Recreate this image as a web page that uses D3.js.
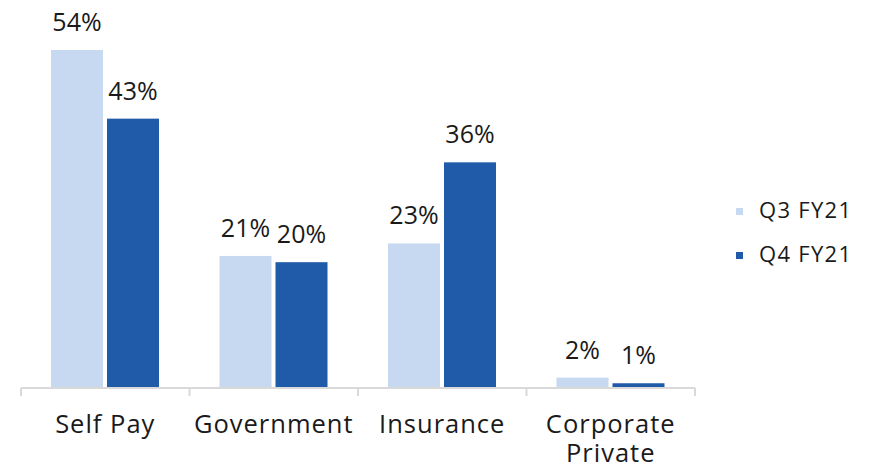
<!DOCTYPE html>
<html>
<head>
<meta charset="utf-8">
<script src="https://cdn.jsdelivr.net/npm/d3@7"></script>
<style>
  html, body { margin: 0; padding: 0; background: #ffffff; }
  svg { display: block; font-family: "Open Sans", "DejaVu Sans", sans-serif; }
</style>
</head>
<body>
<svg id="chart" width="871" height="466"></svg>
<script>
// ---- data ----
const categories = ["Self Pay", "Government", "Insurance", "Corporate Private"];
const categoryLines = [["Self Pay"], ["Government"], ["Insurance"], ["Corporate", "Private"]];
const seriesNames = ["Q3 FY21", "Q4 FY21"];
const q3Values = [54, 21, 23, 1.5];
const q4Values = [43, 20, 36, 0.6];
const seriesColors = ["#c6d9f1", "#1f5ba8"];

const seriesValues = [q3Values, q4Values];

const svg = d3.select("#chart");

const x = d3.scaleBand().domain(categories).range([21, 695]).paddingInner(0).paddingOuter(0);
const xInner = d3.scaleBand().domain(seriesNames).range([30, 138]).paddingInner(4 / 56).paddingOuter(0);
const y = d3.scaleLinear().domain([0, 54]).range([387, 50]);

// bars
const groups = svg.selectAll("g.cat")
  .data(categories)
  .join("g")
  .attr("class", "cat")
  .attr("transform", d => `translate(${x(d)},0)`);

groups.each(function (cat, ci) {
  const g = d3.select(this);
  seriesNames.forEach((s, si) => {
    const v = seriesValues[si][ci];
    g.append("rect")
      .attr("x", xInner(s))
      .attr("y", y(v))
      .attr("width", xInner.bandwidth())
      .attr("height", y(0) - y(v))
      .attr("fill", seriesColors[si]);
    g.append("text")
      .attr("x", xInner(s) + xInner.bandwidth() / 2)
      .attr("y", y(v) - 19)
      .attr("text-anchor", "middle")
      .attr("font-size", 25)
      .attr("fill", "#1a1a1a")
      .text(Math.round(v) + "%");
  });
});

// axis line and boundary ticks
const axisG = svg.append("g");
axisG.append("line")
  .attr("x1", x.range()[0]).attr("x2", x.range()[1])
  .attr("y1", 388).attr("y2", 388)
  .attr("stroke", "#d9d9d9").attr("stroke-width", 2);
const boundaries = categories.map(c => x(c)).concat([x.range()[1]]);
axisG.selectAll("line.tick")
  .data(boundaries)
  .join("line")
  .attr("class", "tick")
  .attr("x1", d => d).attr("x2", d => d)
  .attr("y1", 388).attr("y2", 396)
  .attr("stroke", "#d9d9d9").attr("stroke-width", 2);

// category labels
categories.forEach((c, ci) => {
  categoryLines[ci].forEach((line, li) => {
    svg.append("text")
      .attr("x", x(c) + x.bandwidth() / 2)
      .attr("y", 433 + li * 29)
      .attr("text-anchor", "middle")
      .attr("font-size", 25.5)
      .attr("letter-spacing", 1)
      .attr("fill", "#1a1a1a")
      .text(line);
  });
});

// legend
const legend = svg.append("g");
seriesNames.forEach((s, si) => {
  const yy = 218 + si * 44;
  legend.append("rect")
    .attr("x", 736).attr("y", yy - 10)
    .attr("width", 7).attr("height", 7)
    .attr("fill", seriesColors[si]);
  legend.append("text")
    .attr("x", 759).attr("y", yy)
    .attr("font-size", 22)
    .attr("letter-spacing", 1.3)
    .attr("fill", "#1a1a1a")
    .text(s);
});
</script>
</body>
</html>
